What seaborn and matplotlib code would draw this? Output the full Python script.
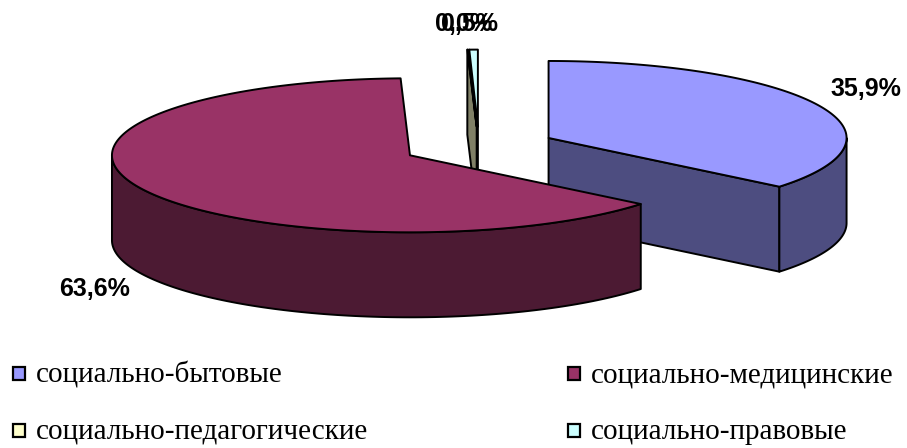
import numpy as np
import matplotlib
matplotlib.use("Agg")
import matplotlib.pyplot as plt
import seaborn as sns
from matplotlib.patches import Polygon, Rectangle

# ---------------- data ----------------
categories = ["социально-бытовые", "социально-медицинские",
              "социально-педагогические", "социально-правовые"]
shares = [35.9, 63.6, 0.04, 0.46]
value_labels = ["35,9%", "63,6%", "0,0%", "0,5%"]

# ---------------- style ----------------
top_colors = ["#9999FF", "#993366", "#FFFFCC", "#CCFFFF"]
side_colors = ["#4D4D80", "#4C1A33", "#808066", "#668080"]

sns.set_theme(style="white")
plt.rcParams["font.family"] = ["Liberation Sans", "DejaVu Sans"]

W, Hpx = 907, 448
fig = plt.figure(figsize=(W / 100, Hpx / 100), dpi=100)
ax = fig.add_axes([0, 0, 1, 1])
ax.set_xlim(0, W)
ax.set_ylim(Hpx, 0)
ax.axis("off")

CX, CY = 479.0, 146.5   # pie centre (pixels)
RX, RY = 298.0, 77.0    # ellipse radii
THICK = 85.0            # pie thickness
EXPLODE = 77.0          # explosion distance
LW = 1.4

def rim(cx, cy, ang, r=1.0):
    a = np.radians(ang)
    return cx + RX * r * np.sin(a), cy - RY * r * np.cos(a)

total = float(sum(shares))
angles = np.concatenate([[0], np.cumsum(shares) / total * 360.0])

slices = []
for i in range(len(shares)):
    a0, a1 = angles[i], angles[i + 1]
    mid = 0.5 * (a0 + a1)
    m = np.radians(mid)
    ax_ = CX + EXPLODE * np.sin(m)
    ay_ = CY - EXPLODE * (RY / RX) * np.cos(m)
    slices.append(dict(i=i, a0=a0, a1=a1, mid=mid, cx=ax_, cy=ay_))

# draw back-to-front; legal slice before pedagogic (pedagogic face in front)
order = sorted(slices, key=lambda s: (round(s["cy"], 0), -s["i"]))

def poly(pts, fc, z):
    ax.add_patch(Polygon(pts, closed=True, facecolor=fc, edgecolor="black",
                         linewidth=LW, joinstyle="round", zorder=z))

z = 1
for s in order:
    i, a0, a1, cx, cy = s["i"], s["a0"], s["a1"], s["cx"], s["cy"]
    # radial cut faces
    for a, vis in ((a0, np.sin(np.radians(a0)) < -1e-9),
                   (a1, np.sin(np.radians(a1)) > 1e-9)):
        if vis:
            rx_, ry_ = rim(cx, cy, a)
            poly([(cx, cy), (rx_, ry_), (rx_, ry_ + THICK), (cx, cy + THICK)],
                 side_colors[i], z)
            z += 1
    # outer wall (front half only)
    w0, w1 = max(a0, 90.0), min(a1, 270.0)
    if w1 > w0:
        th = np.linspace(w0, w1, 120)
        top = [rim(cx, cy, t) for t in th]
        bot = [(x, y + THICK) for x, y in top[::-1]]
        poly(top + bot, side_colors[i], z)
        z += 1
    # top face
    th = np.linspace(a0, a1, max(int((a1 - a0) * 2), 3))
    pts = [(cx, cy)] + [rim(cx, cy, t) for t in th]
    poly(pts, top_colors[i], z)
    z += 1

# value labels
label_pos = [(866, 89), (95, 289), (464, 24), (470, 24)]
for (x, y), t in zip(label_pos, value_labels):
    ax.text(x, y, t, ha="center", va="center", fontsize=18,
            fontweight="bold", color="black", zorder=50)

# legend
leg_pos = [(13, 374), (568, 374), (13, 431), (568, 431)]
for (x, y), c, name in zip(leg_pos, top_colors, categories):
    ax.add_patch(Rectangle((x, y - 6.5), 12, 13, facecolor=c,
                           edgecolor="black", linewidth=1.6, zorder=50))
    ax.text(x + 23, y + 1, name, ha="left", va="center", fontsize=21,
            family=["Liberation Serif", "DejaVu Serif"], color="black",
            zorder=50)

fig.savefig("out.png", dpi=100)
